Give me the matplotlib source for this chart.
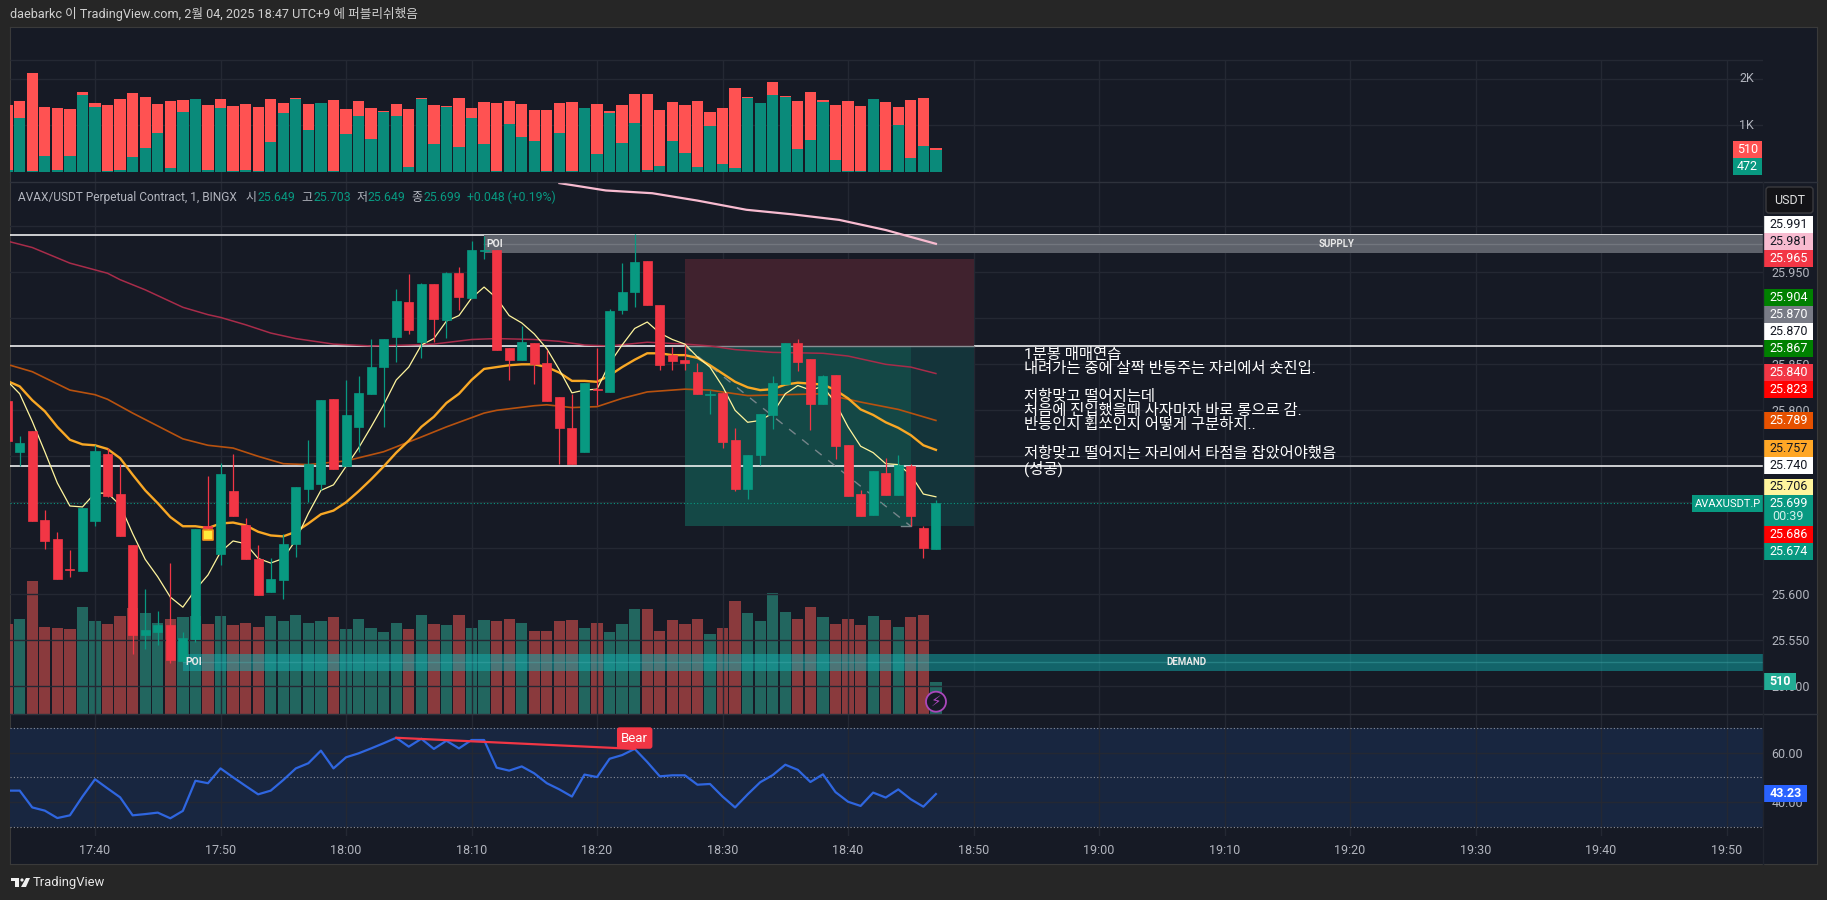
# TradingView 1분봉 AVAX/USDT 차트 재현
import matplotlib
matplotlib.use('Agg')
import matplotlib.pyplot as plt
from matplotlib.patches import Rectangle, Circle, FancyBboxPatch, Polygon

plt.rcParams['font.family'] = ['Roboto', 'Noto Sans CJK KR', 'DejaVu Sans']

W, H = 1827, 900

# minutes relative to 17:40
minutes = list(range(-7, 68))

opens = [25.810, 25.755, 25.777, 25.681, 25.660, 25.627, 25.625, 25.680, 25.753, 25.709, 25.654, 25.556, 25.559,
         25.567, 25.527, 25.551, 25.674, 25.644, 25.712, 25.675, 25.638, 25.603, 25.616, 25.655, 25.715, 25.720,
         25.812, 25.739, 25.782, 25.818, 25.847, 25.880, 25.918, 25.874, 25.937, 25.898, 25.949, 25.922, 25.973,
         25.974, 25.868, 25.855, 25.873, 25.851, 25.814, 25.781, 25.755, 25.823, 25.820, 25.909, 25.929, 25.962,
         25.914, 25.860, 25.855, 25.842, 25.817, 25.819, 25.768, 25.715, 25.751, 25.795, 25.829, 25.873, 25.856,
         25.807, 25.838, 25.762, 25.709, 25.686, 25.732, 25.708, 25.739, 25.672, 25.649]
highs = [25.810, 25.772, 25.777, 25.692, 25.668, 25.648, 25.694, 25.762, 25.759, 25.742, 25.654, 25.606, 25.582,
         25.634, 25.559, 25.671, 25.729, 25.743, 25.753, 25.683, 25.654, 25.639, 25.666, 25.717, 25.768, 25.811,
         25.812, 25.833, 25.837, 25.878, 25.878, 25.932, 25.948, 25.938, 25.937, 25.950, 25.956, 25.984, 25.989,
         25.974, 25.868, 25.892, 25.873, 25.866, 25.814, 25.818, 25.830, 25.868, 25.910, 25.960, 25.992, 25.962,
         25.914, 25.869, 25.871, 25.851, 25.822, 25.820, 25.781, 25.751, 25.796, 25.837, 25.873, 25.878, 25.856,
         25.838, 25.838, 25.762, 25.713, 25.734, 25.748, 25.751, 25.742, 25.674, 25.703]
lows = [25.767, 25.739, 25.680, 25.649, 25.617, 25.619, 25.625, 25.674, 25.706, 25.663, 25.535, 25.541, 25.545,
        25.525, 25.527, 25.548, 25.670, 25.632, 25.685, 25.638, 25.599, 25.603, 25.595, 25.641, 25.700, 25.713,
        25.736, 25.739, 25.755, 25.818, 25.782, 25.853, 25.883, 25.857, 25.874, 25.879, 25.909, 25.922, 25.965,
        25.866, 25.833, 25.855, 25.829, 25.810, 25.742, 25.742, 25.755, 25.806, 25.820, 25.905, 25.912, 25.914,
        25.844, 25.844, 25.844, 25.818, 25.796, 25.759, 25.712, 25.704, 25.741, 25.780, 25.829, 25.843, 25.779,
        25.807, 25.747, 25.707, 25.685, 25.686, 25.708, 25.708, 25.674, 25.639, 25.649]
closes = [25.767, 25.764, 25.680, 25.658, 25.617, 25.626, 25.694, 25.756, 25.707, 25.663, 25.556, 25.561, 25.567,
          25.529, 25.552, 25.671, 25.672, 25.731, 25.685, 25.638, 25.599, 25.617, 25.655, 25.717, 25.742, 25.811,
          25.736, 25.795, 25.819, 25.847, 25.878, 25.919, 25.887, 25.937, 25.899, 25.949, 25.923, 25.974, 25.974,
          25.866, 25.855, 25.874, 25.850, 25.810, 25.781, 25.742, 25.830, 25.822, 25.908, 25.929, 25.961, 25.914,
          25.849, 25.854, 25.851, 25.818, 25.818, 25.766, 25.715, 25.751, 25.796, 25.830, 25.873, 25.853, 25.807,
          25.837, 25.761, 25.707, 25.685, 25.734, 25.708, 25.741, 25.685, 25.650, 25.699]

# volume split shown in the top pane
vol_red = [1434, 1520, 2122, 1391, 1369, 1348, 1714, 1477, 1434, 1563, 1692, 1606, 1455, 1520, 1542, 1400, 1434,
           1563, 1412, 1455, 1391, 1563, 1477, 1585, 1455, 1300, 1542, 1348, 1520, 1369, 1305, 1455, 1348, 1577,
           1434, 1412, 1585, 1369, 1499, 1477, 1520, 1455, 1326, 1326, 1477, 1499, 1200, 1455, 1305, 1434, 1671,
           1671, 1326, 1499, 1434, 1520, 1283, 1369, 1800, 1606, 1300, 1929, 1628, 1520, 1714, 1542, 1434, 1520,
           1412, 1400, 1499, 1391, 1542, 1585, 510]
vol_green = [36, 1154, 22, 337, 36, 337, 1649, 1391, 22, 36, 315, 509, 832, 79, 1283, 1563, 36, 1369, 14, 36, 22,
             638, 1262, 1563, 896, 1477, 22, 810, 1197, 703, 1283, 1197, 108, 1563, 595, 1391, 531, 1154, 595, 22,
             1025, 746, 660, 22, 832, 22, 1369, 380, 1262, 617, 1047, 36, 122, 660, 402, 100, 982, 165, 79, 1585,
             1477, 1649, 1606, 488, 681, 1499, 251, 22, 22, 1563, 36, 1004, 294, 552, 472]

# moving averages
ma_thin = [25.832, 25.818, 25.788, 25.755, 25.721, 25.696, 25.695, 25.710, 25.710, 25.697, 25.666, 25.638, 25.619,
           25.597, 25.586, 25.605, 25.621, 25.646, 25.658, 25.655, 25.639, 25.634, 25.639, 25.659, 25.688, 25.713,
           25.719, 25.739, 25.759, 25.782, 25.806, 25.833, 25.847, 25.871, 25.878, 25.897, 25.903, 25.922, 25.934,
           25.922, 25.903, 25.895, 25.883, 25.867, 25.844, 25.819, 25.822, 25.823, 25.851, 25.871, 25.889, 25.896,
           25.884, 25.877, 25.872, 25.858, 25.847, 25.826, 25.800, 25.787, 25.789, 25.797, 25.818, 25.827, 25.822,
           25.826, 25.808, 25.782, 25.761, 25.754, 25.742, 25.741, 25.730, 25.709, 25.706]
ma_orange = [25.832, 25.826, 25.811, 25.799, 25.782, 25.768, 25.763, 25.762, 25.758, 25.748, 25.730, 25.713, 25.699,
             25.684, 25.674, 25.674, 25.672, 25.677, 25.678, 25.675, 25.668, 25.664, 25.663, 25.668, 25.677, 25.687,
             25.691, 25.700, 25.712, 25.725, 25.739, 25.754, 25.767, 25.782, 25.793, 25.808, 25.818, 25.833, 25.845,
             25.847, 25.849, 25.850, 25.850, 25.847, 25.841, 25.832, 25.832, 25.831, 25.838, 25.847, 25.855, 25.862,
             25.862, 25.860, 25.860, 25.857, 25.849, 25.840, 25.831, 25.825, 25.822, 25.823, 25.828, 25.830, 25.829,
             25.828, 25.822, 25.813, 25.801, 25.795, 25.787, 25.781, 25.773, 25.762, 25.757]
ma_dark_t = [-7, -5, -2, 0, 1, 3, 7, 9, 11, 13, 15, 17, 20, 23, 26, 28, 31, 32, 35, 36, 38, 40, 42, 44, 47, 49, 52,
             55, 58, 61, 64, 67]
ma_dark = [25.850, 25.842, 25.822, 25.817, 25.812, 25.797, 25.769, 25.762, 25.759, 25.750, 25.742, 25.741, 25.745,
           25.755, 25.771, 25.782, 25.797, 25.800, 25.805, 25.806, 25.803, 25.804, 25.813, 25.820, 25.823, 25.822,
           25.816, 25.817, 25.818, 25.809, 25.801, 25.789]
ma_red_t = [-7, -5, -2, 1, 2, 4, 7, 9, 10, 12, 14, 16, 19, 22, 25, 27, 30, 32, 35, 37, 39, 41, 44, 47, 49, 51, 54,
            58, 60, 63, 65, 67]
ma_red = [25.984, 25.977, 25.960, 25.949, 25.942, 25.931, 25.912, 25.904, 25.901, 25.893, 25.884, 25.878, 25.872,
          25.870, 25.871, 25.872, 25.877, 25.878, 25.877, 25.875, 25.871, 25.870, 25.874, 25.872, 25.870, 25.866,
          25.863, 25.862, 25.859, 25.850, 25.847, 25.840]
ma_pink_t = [37, 40.7, 44.4, 48, 51.9, 55.6, 59.3, 63, 67]
ma_pink = [26.047, 26.039, 26.036, 26.028, 26.018, 26.013, 26.007, 25.996, 25.981]

rsi = [44.6, 44.6, 37.8, 36.5, 33.5, 34.6, 42.2, 49.2, 45.5, 41.9, 34.6, 35.1, 35.7, 33.4, 36.4, 48.6, 47.6, 53.6,
       50.0, 46.5, 43.1, 44.6, 48.9, 53.6, 55.7, 60.8, 53.6, 58.1, 59.7, 61.7, 63.8, 66.0, 62.4, 65.6, 61.5, 64.8,
       61.7, 65.1, 65.1, 53.9, 52.7, 54.4, 51.6, 47.6, 45.1, 42.2, 51.1, 50.1, 57.5, 59.0, 61.5, 56.2, 50.4, 50.8,
       50.8, 47.0, 47.3, 42.2, 37.8, 43.1, 48.0, 50.9, 55.1, 53.0, 48.1, 51.2, 44.0, 40.1, 38.4, 43.8, 41.8, 45.1,
       41.1, 38.1, 43.23]

white_levels = [25.991, 25.870, 25.740]
supply_zone = [25.971, 25.9905]
demand_zone = [25.5166, 25.5352]
stop_price, entry_price, target_price = 25.965, 25.870, 25.674
last_price = 25.699

time_ticks = list(range(0, 140, 10))
time_labels = ['17:40', '17:50', '18:00', '18:10', '18:20', '18:30', '18:40', '18:50', '19:00', '19:10', '19:20',
               '19:30', '19:40', '19:50']
price_ticks = [25.50, 25.55, 25.60, 25.65, 25.70, 25.75, 25.80, 25.85, 25.90, 25.95, 26.00]

# right scale tags: text, background, text colour
tag_texts = ['25.991', '25.981', '25.965', '25.904', '25.870', '25.870', '25.867', '25.840', '25.823', '25.789',
             '25.757', '25.740', '25.706', '25.686', '25.674']
tag_colors = ['#ffffff', '#f8bbd0', '#f23645', '#008000', '#787b86', '#ffffff', '#008000', '#f23645', '#ff0000',
              '#e65100', '#ffa726', '#ffffff', '#fff59d', '#ff0000', '#089981']
tag_text_colors = ['#131722', '#131722', '#ffffff', '#ffffff', '#ffffff', '#131722', '#ffffff', '#ffffff', '#ffffff',
                   '#ffffff', '#131722', '#131722', '#131722', '#ffffff', '#ffffff']
tag_centers = [224.7, 241.7, 258.7, 297.7, 314.7, 331.7, 348.7, 372.7, 389.7, 420.7, 448.7, 465.7, 487, 534.5, 551.5]

note = ('1분봉 매매연습\n내려가는 중에 살짝 반등주는 자리에서 숏진입.\n\n저항맞고 떨어지는데\n'
        '처음에 진입했을때 사자마자 바로 롱으로 감.\n반등인지 휩쏘인지 어떻게 구분하지..\n\n'
        '저항맞고 떨어지는 자리에서 타점을 잡았어야했음\n(성공)')

PANE = '#161a25'
GRID = '#242833'
LABEL = '#b2b5be'
UP = '#089981'
DOWN = '#f23645'
XLIM = (-6.773, 132.9)


def px_rect(x0, y0, x1, y1):
    return [x0 / W, 1 - y1 / H, (x1 - x0) / W, (y1 - y0) / H]


def clean(ax):
    for s in ax.spines.values():
        s.set_visible(False)
    ax.set_xlim(*XLIM)
    ax.tick_params(length=0, labelbottom=False, labelleft=False, colors=LABEL, labelsize=9)


fig = plt.figure(figsize=(W / 100, H / 100), dpi=100, facecolor='#262626')

ax_bg = fig.add_axes(px_rect(10, 27, 1817, 864), zorder=0, facecolor=PANE)
ax_bg.set_xticks([])
ax_bg.set_yticks([])
for s in ax_bg.spines.values():
    s.set_color('#3a3a3a')

# top volume pane
ax_top = fig.add_axes(px_rect(10, 27, 1763, 182), zorder=1, facecolor='none')
clean(ax_top)
ax_top.set_ylim(-221, 3112)
ax_top.set_yticks([])
ax_top.hlines([1000, 2000, 2400], *XLIM, color=GRID, lw=1, zorder=0)
ax_top.vlines(time_ticks, -221, 2400, color=GRID, lw=1, zorder=0)
ax_top.bar(minutes, vol_red, width=0.9, color='#ff5252', zorder=2)
ax_top.bar(minutes, vol_green, width=0.9, color='#0a8a7a', zorder=3)
ax_top.text(131.6, 2000, '2K', color=LABEL, fontsize=9, ha='center', va='center')
ax_top.text(131.6, 1000, '1K', color=LABEL, fontsize=9, ha='center', va='center')

# volume overlay under the candles
ax_under = fig.add_axes(px_rect(10, 182, 1763, 714), zorder=1, facecolor='none')
clean(ax_under)
ax_under.set_yticks([])
ax_under.set_ylim(0, 8485)
volume = [max(r, g) for r, g in zip(vol_red, vol_green)]
vol_colors = ['#22665f' if c >= o else '#8a3a3d' for o, c in zip(opens, closes)]
ax_under.bar(minutes, volume, width=0.9, color=vol_colors)

# main price pane
ax = fig.add_axes(px_rect(10, 182, 1763, 714), zorder=2, facecolor='none')
clean(ax)
ax.set_ylim(25.4699, 26.0482)
ax.yaxis.tick_right()
ax.set_yticks(price_ticks, [f'{p:.3f}' for p in price_ticks])
ax.tick_params(axis='y', pad=6, labelright=True)
ax.set_xticks(time_ticks)
ax.grid(True, color=GRID, lw=1)
ax.set_axisbelow(True)

# short position box
ax.fill_between([47, 70], entry_price, stop_price, color='#40222e', lw=0, zorder=1)
ax.fill_between([47, 65], target_price, entry_price, color='#144846', lw=0, zorder=1)
ax.fill_between([65, 70], target_price, entry_price, color='#14343a', lw=0, zorder=1)
ax.plot([47, 70], [entry_price, entry_price], color='#8a8f94', lw=1, zorder=1.6)
ax.plot([47, 65], [entry_price, target_price], color='#76858a', lw=1, ls=(0, (6, 6)), zorder=1.6)
ax.plot([64.2, 65, 65], [target_price, target_price, target_price + 0.008], color='#76858a', lw=1, zorder=1.6)

for lvl in white_levels:
    ax.axhline(lvl, color='#ffffff', lw=1.1, zorder=1.5 if lvl != entry_price else 0.9)

# supply / demand zones
ax.fill_between([31, XLIM[1]], supply_zone[0], supply_zone[1], color='#5e626b', lw=0, zorder=1.7)
ax.plot([31, XLIM[1]], [sum(supply_zone) / 2] * 2, color='#72767e', lw=1, zorder=1.75)
ax.fill_between([7, XLIM[1]], demand_zone[0], demand_zone[1], color='#12aeb0', alpha=0.5, lw=0, zorder=1.7)
ax.plot([7, XLIM[1]], [sum(demand_zone) / 2] * 2, color='#4cb5b5', lw=1, alpha=0.35, zorder=1.75)
ax.text(31.2, sum(supply_zone) / 2, 'POI', color='#e8e8e8', fontsize=7.5, fontweight='bold', va='center', zorder=5)
ax.text(98.9, sum(supply_zone) / 2, 'SUPPLY', color='#e8e8e8', fontsize=7, fontweight='bold', ha='center', va='center', zorder=5)
ax.text(7.2, sum(demand_zone) / 2, 'POI', color='#e8e8e8', fontsize=7.5, fontweight='bold', va='center', zorder=5)
ax.text(87, sum(demand_zone) / 2, 'DEMAND', color='#e8e8e8', fontsize=7, fontweight='bold', ha='center', va='center', zorder=5)

ax.axhline(last_price, color=UP, lw=0.8, ls=(0, (1, 2)), zorder=1.8)

# moving averages
ax.plot(ma_pink_t, ma_pink, color='#f8bbd0', lw=1.6, zorder=2.5)
ax.plot(ma_red_t, ma_red, color='#a82c4a', lw=1.1, zorder=2.5)
ax.plot(ma_dark_t, ma_dark, color='#b8520f', lw=1.2, zorder=2.5)
ax.plot(minutes, ma_orange, color='#f9a825', lw=1.7, zorder=2.5)
ax.plot(minutes, ma_thin, color='#fff59d', lw=0.9, zorder=2.5)

# candles
candle_colors = [UP if c >= o else DOWN for o, c in zip(opens, closes)]
ax.vlines(minutes, lows, highs, color=candle_colors, lw=0.9, zorder=3)
ax.bar(minutes, [abs(c - o) for o, c in zip(opens, closes)], bottom=[min(o, c) for o, c in zip(opens, closes)],
       width=0.72, color=candle_colors, edgecolor=candle_colors, lw=0.5, zorder=3.1)
ax.scatter([9], [25.664], marker='s', s=50, color='#ffeb3b', edgecolor='#f7931a', lw=1.2, zorder=4)

ax.text(74.0, 25.868, note, color='#ffffff', fontsize=11.1, va='top', ha='left', linespacing=1.0, zorder=5)

# RSI pane
ax_rsi = fig.add_axes(px_rect(10, 714, 1763, 836), zorder=1, facecolor='none')
clean(ax_rsi)
ax_rsi.set_ylim(26.23, 75.63)
ax_rsi.axhspan(30, 70, color='#182640', lw=0, zorder=0)
ax_rsi.yaxis.tick_right()
ax_rsi.set_yticks([40, 60], ['40.00', '60.00'])
ax_rsi.set_xticks(time_ticks, time_labels)
ax_rsi.tick_params(axis='y', pad=6, labelright=True)
ax_rsi.tick_params(axis='x', pad=6, labelbottom=True)
ax_rsi.grid(True, color=GRID, lw=1)
ax_rsi.set_axisbelow(True)
for lvl in (30, 50, 70):
    ax_rsi.axhline(lvl, color='#8a8e98', lw=0.8, ls=(0, (1, 2)), zorder=1)
ax_rsi.plot(minutes, rsi, color='#2f66e0', lw=1.6, zorder=3)
ax_rsi.plot([24, 43], [66.0, 61.5], color=DOWN, lw=1.6, zorder=4)
ax_rsi.text(43, 65.9, 'Bear', color='#ffffff', fontsize=9.5, ha='center', va='center', zorder=5,
            bbox=dict(boxstyle='round,pad=0.32,rounding_size=0.2', fc=DOWN, ec='none'))

# everything in pixel coordinates from here on: labels on the scale, header, footer
ov = fig.add_axes([0, 0, 1, 1], zorder=10, facecolor='none')
ov.set_xlim(0, W)
ov.set_ylim(H, 0)
ov.axis('off')


def tag(x0, x1, yc, text, bg, fg, h=17, size=9, weight='normal'):
    ov.add_patch(Rectangle((x0, yc - h / 2), x1 - x0, h, color=bg, lw=0))
    ov.text((x0 + x1) / 2, yc, text, color=fg, fontsize=size, ha='center', va='center', fontweight=weight)


ov.plot([10, 1817], [182, 182], color='#2e323c', lw=1)
ov.plot([10, 1817], [714, 714], color='#2e323c', lw=1)
ov.plot([1763, 1763], [182, 864], color='#20242e', lw=1)

for txt, bg, fg, yc in zip(tag_texts, tag_colors, tag_text_colors, tag_centers):
    tag(1764, 1813, yc, txt, bg, fg)

ov.add_patch(Rectangle((1764, 495), 49, 31, color=UP, lw=0))
ov.text(1788.5, 503.6, '25.699', color='#ffffff', fontsize=9, ha='center', va='center')
ov.text(1772, 517, '00:39', color='#d5f0ea', fontsize=9, ha='left', va='center')
tag(1692, 1763, 503.6, 'AVAXUSDT.P', UP, '#ffffff', size=8)
tag(1733, 1762, 149.5, '510', '#ff5252', '#ffffff')
tag(1733, 1762, 166, '472', UP, '#ffffff')
tag(1764, 1796, 681.5, '510', '#22ab94', '#ffffff', weight='bold')
tag(1764, 1807, 793.5, '43.23', '#2962ff', '#ffffff', weight='bold')

ov.add_patch(FancyBboxPatch((1768, 189), 43, 22, boxstyle='round,pad=2,rounding_size=3', fc='#131317', ec='#3a3a3e', lw=1))
ov.text(1789.5, 200, 'USDT', color='#e0e0e0', fontsize=9, ha='center', va='center')

# lightning badge on the last volume bar
ov.add_patch(Circle((936, 701.7), 10, fc='#161a25', ec='#ab47bc', lw=1.3))
ov.text(936, 701.7, '⚡', color='#ab47bc', fontsize=11, ha='center', va='center', family=['DejaVu Sans'])

# header and legend
ov.text(10, 14, 'daebarkc 이 TradingView.com, 2월 04, 2025 18:47 UTC+9 에 퍼블리쉬했음', color='#d0d0d0', fontsize=9.1, va='center')
ov.text(18, 197.5, 'AVAX/USDT Perpetual Contract, 1, BINGX', color=LABEL, fontsize=8.6, va='center')
for x, letter, value, xv in [(246, '시', '25.649', 258), (301, '고', '25.703', 313), (357, '저', '25.649', 368),
                             (411, '종', '25.699', 423)]:
    ov.text(x, 197.5, letter, color=LABEL, fontsize=8.6, va='center')
    ov.text(xv, 197.5, value, color=UP, fontsize=8.8, va='center')
ov.text(467, 197.5, '+0.048 (+0.19%)', color=UP, fontsize=8.8, va='center')

# footer logo
ov.add_patch(Polygon([(11, 878), (19, 878), (19, 887), (15, 887), (15, 881), (11, 881)], color='#f0f0f0', lw=0))
ov.add_patch(Circle((22, 880), 1.6, color='#f0f0f0', lw=0))
ov.add_patch(Polygon([(26, 878), (30, 878), (26, 887), (21, 887)], color='#f0f0f0', lw=0))
ov.text(33, 882.5, 'TradingView', color='#e8e8e8', fontsize=9.4, va='center')

fig.savefig('out.png', dpi=100, facecolor=fig.get_facecolor())
